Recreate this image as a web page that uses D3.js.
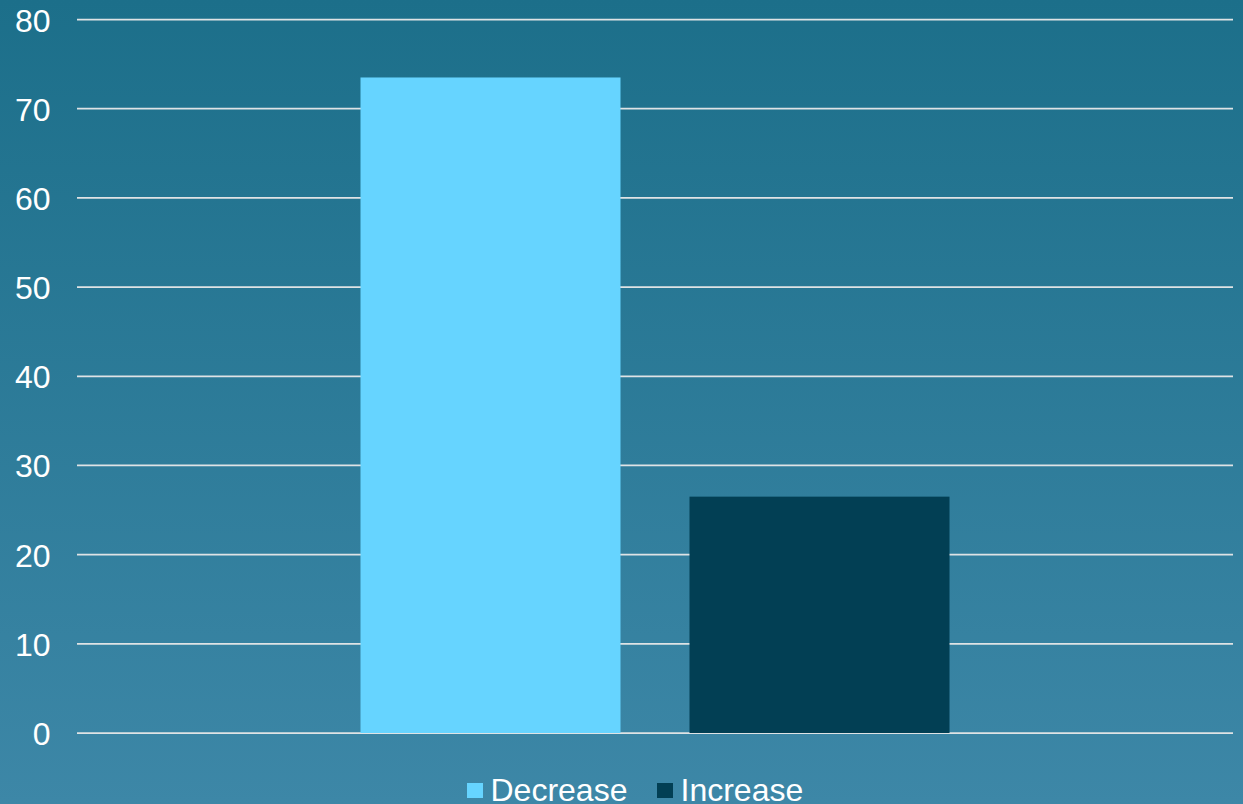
<!DOCTYPE html>
<html>
<head>
<meta charset="utf-8">
<script src="https://cdn.jsdelivr.net/npm/d3@7/dist/d3.min.js"></script>
<style>
  html, body { margin: 0; padding: 0; background: #2a7a98; }
  svg { display: block; }
  text { font-family: "Liberation Sans", Arial, sans-serif; fill: #ffffff; }
</style>
</head>
<body>
<svg id="chart" width="1243" height="804"></svg>
<script>
// Share of responses by direction of change
const categories = ["Change"];
const seriesNames = ["Decrease", "Increase"];
const seriesValues = [73.5, 26.5];
const seriesColors = ["#66d4ff", "#023f54"];
const yTicks = [0, 10, 20, 30, 40, 50, 60, 70, 80];

const W = 1243, H = 804;
const plot = { left: 77, right: 1233, top: 19.5, bottom: 733 };

const svg = d3.select("#chart");

// Background gradient
const defs = svg.append("defs");
const grad = defs.append("linearGradient")
  .attr("id", "bg").attr("x1", 0).attr("y1", 0).attr("x2", 0).attr("y2", 1);
grad.append("stop").attr("offset", "0%").attr("stop-color", "#1c6f8a");
grad.append("stop").attr("offset", "100%").attr("stop-color", "#3d87a7");
svg.append("rect").attr("width", W).attr("height", H).attr("fill", "url(#bg)");

const y = d3.scaleLinear().domain([0, 80]).range([plot.bottom, plot.top]);
const x0 = d3.scaleBand().domain(categories).range([plot.left, plot.right]);
const x1 = d3.scaleBand().domain(seriesNames)
  .range([0, x0.bandwidth()])
  .paddingInner(0.2097).paddingOuter(0.8617);

// Gridlines
svg.append("g").selectAll("line").data(yTicks).join("line")
  .attr("x1", plot.left).attr("x2", plot.right)
  .attr("y1", d => y(d)).attr("y2", d => y(d))
  .attr("stroke", "#dfe3e5").attr("stroke-width", 1.75);

// Y tick labels
svg.append("g").selectAll("text").data(yTicks).join("text")
  .attr("x", 50.5)
  .attr("y", d => y(d) + 12)
  .attr("text-anchor", "end")
  .attr("font-size", 32)
  .text(d => d);

// Bars
const barData = seriesNames.map((s, i) => ({ cat: categories[0], name: s, value: seriesValues[i], color: seriesColors[i] }));
svg.append("g").selectAll("rect").data(barData).join("rect")
  .attr("x", d => x0(d.cat) + x1(d.name))
  .attr("width", x1.bandwidth())
  .attr("y", d => y(d.value))
  .attr("height", d => y(0) - y(d.value))
  .attr("fill", d => d.color);

// Legend
const legendX = [467, 657];
const legend = svg.append("g").selectAll("g").data(barData).join("g")
  .attr("transform", (d, i) => `translate(${legendX[i]},783)`);
legend.append("rect").attr("width", 16).attr("height", 15).attr("fill", d => d.color);
legend.append("text")
  .attr("x", 23.5)
  .attr("y", 17.5)
  .attr("font-size", 32)
  .text(d => d.name);
</script>
</body>
</html>
